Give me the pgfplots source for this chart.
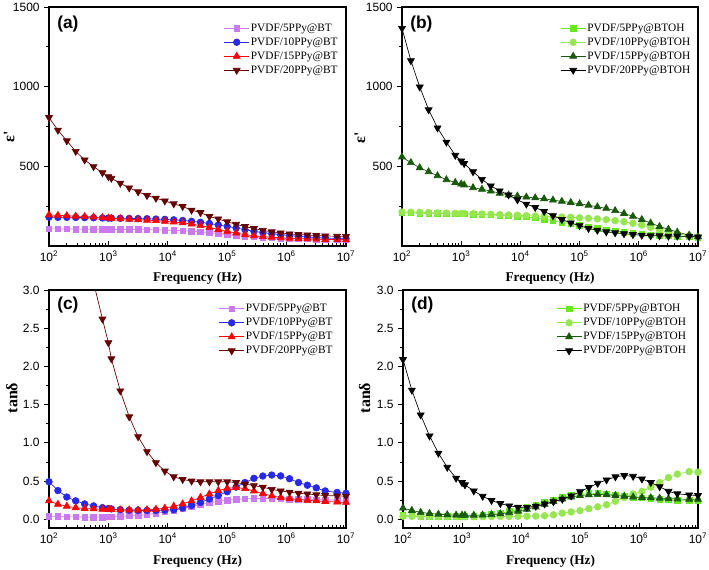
\documentclass[border=0pt]{standalone}
\usepackage{fontspec}
\setmainfont{Liberation Serif}
\newfontfamily\arial{Liberation Sans}
\usepackage{pgfplots}
\usepackage{pgfplotstable}
\pgfplotsset{compat=1.18}

\definecolor{cpink}{RGB}{204,120,240}
\definecolor{cblue}{RGB}{40,40,235}
\definecolor{cred}{RGB}{255,0,0}
\definecolor{cmaroon}{RGB}{100,0,0}
\definecolor{cgreen}{RGB}{100,235,30}
\definecolor{clgreen}{RGB}{150,230,80}
\definecolor{cdgreen}{RGB}{25,90,10}

% panel (a): eps' of PVDF/PPy@BT
\pgfplotstableread{
f p5 p10 p15 p20
1e2 108 181 195 806
1.413e2 107 180 192 727
1.995e2 107 180 190 660
2.818e2 106 179 187 594
3.981e2 106 178 185 540
5.623e2 105 177 182 498
7.943e2 105 176 178 460
1e3 104 175 175 435
1.122e3 104 175 174 425
1.585e3 104 174 171 394
2.239e3 103 173 168 365
3.162e3 103 172 165 340
4.467e3 102 171 162 317
6.31e3 101 169 159 300
8.913e3 100 167 155 283
1.259e4 98 164 151 265
1.778e4 96 160 145 248
2.512e4 93 155 138 225
3.548e4 89 149 128 210
5.012e4 84 141 117 185
7.079e4 78 132 104 170
1e5 72 123 92 152
1.413e5 66 113 81 136
1.995e5 61 102 71 122
2.818e5 57 92 64 110
3.981e5 53 84 59 98
5.623e5 50 77 55 89
7.943e5 48 71 52 82
1.122e6 46 66 49 76
1.585e6 45 61 47 72
2.239e6 44 57 45 69
3.162e6 43 53 43 66
4.467e6 42 50 41 63
7.079e6 41 47 40 61
1e7 40 46 39 60
}\tabA

% panel (b): eps' of PVDF/PPy@BTOH
\pgfplotstableread{
f p5 p10 p15 p20
1e2 208 213 559 1366
1.413e2 207 212 523 1163
1.995e2 206 211 491 998
2.818e2 205 210 466 855
3.981e2 204 208 441 741
5.623e2 203 207 416 652
7.943e2 202 205 399 569
1e3 201 204 389 534
1.122e3 201 204 383 518
1.585e3 199 202 366 466
2.239e3 197 201 356 418
3.162e3 195 199 345 377
4.467e3 192 197 331 346
6.31e3 189 195 320 321
8.913e3 186 193 313 290
1.259e4 182 190 307 263
1.778e4 176 188 302 242
2.512e4 168 186 296 217
3.548e4 159 184 288 190
5.012e4 148 182 280 166
7.079e4 140 180 273 145
1e5 131 177 265 128
1.413e5 120 174 256 110
1.995e5 110 170 246 99
2.818e5 101 165 236 89
3.981e5 94 159 222 83
5.623e5 87 152 204 77
7.943e5 81 143 186 72
1.122e6 76 131 166 68
1.585e6 71 117 144 64
2.239e6 68 102 122 64
3.162e6 65 88 105 62
4.467e6 62 76 87 62
7.079e6 58 65 68 60
1e7 56 58 58 56
}\tabB

% panel (c): tan delta of PVDF/PPy@BT
\pgfplotstableread{
f p5 p10 p15 p20
1e2 0.04 0.49 0.24 7.2
1.413e2 0.035 0.375 0.195 6.1
1.995e2 0.032 0.29 0.17 5.2
2.818e2 0.03 0.24 0.15 4.4
3.981e2 0.028 0.20 0.14 3.7
5.623e2 0.027 0.174 0.135 3.1
7.943e2 0.028 0.152 0.13 2.62
1e3 0.03 0.14 0.128 2.31
1.122e3 0.03 0.135 0.126 2.10
1.585e3 0.035 0.125 0.122 1.68
2.239e3 0.042 0.118 0.12 1.34
3.162e3 0.05 0.115 0.12 1.08
4.467e3 0.062 0.115 0.122 0.885
6.31e3 0.078 0.115 0.13 0.74
8.913e3 0.095 0.118 0.145 0.63
1.259e4 0.115 0.125 0.17 0.555
1.778e4 0.14 0.147 0.2 0.52
2.512e4 0.165 0.18 0.24 0.50
3.548e4 0.19 0.22 0.285 0.49
5.012e4 0.215 0.265 0.33 0.49
7.079e4 0.235 0.31 0.375 0.49
1e5 0.25 0.36 0.405 0.49
1.413e5 0.26 0.42 0.415 0.48
1.995e5 0.268 0.48 0.40 0.46
2.818e5 0.272 0.535 0.37 0.44
3.981e5 0.272 0.565 0.335 0.42
5.623e5 0.27 0.578 0.305 0.39
7.943e5 0.267 0.567 0.285 0.37
1.122e6 0.263 0.53 0.27 0.355
1.585e6 0.26 0.48 0.258 0.34
2.239e6 0.257 0.445 0.248 0.33
3.162e6 0.255 0.41 0.24 0.32
4.467e6 0.253 0.37 0.232 0.31
7.079e6 0.25 0.35 0.225 0.305
1e7 0.25 0.34 0.22 0.30
}\tabC

% panel (d): tan delta of PVDF/PPy@BTOH
\pgfplotstableread{
f p5 p10 p15 p20
1e2 0.05 0.04 0.145 2.09
1.413e2 0.045 0.037 0.115 1.69
1.995e2 0.04 0.035 0.09 1.365
2.818e2 0.038 0.034 0.075 1.09
3.981e2 0.036 0.033 0.065 0.864
5.623e2 0.035 0.033 0.058 0.68
7.943e2 0.035 0.033 0.054 0.537
1e3 0.035 0.033 0.052 0.48
1.122e3 0.036 0.033 0.052 0.45
1.585e3 0.04 0.033 0.052 0.37
2.239e3 0.048 0.034 0.055 0.30
3.162e3 0.06 0.035 0.06 0.245
4.467e3 0.078 0.036 0.07 0.205
6.31e3 0.1 0.037 0.085 0.175
8.913e3 0.125 0.038 0.105 0.158
1.259e4 0.155 0.039 0.13 0.155
1.778e4 0.185 0.041 0.16 0.17
2.512e4 0.22 0.045 0.195 0.2
3.548e4 0.255 0.058 0.23 0.228
5.012e4 0.285 0.08 0.265 0.262
7.079e4 0.31 0.095 0.29 0.305
1e5 0.325 0.113 0.31 0.36
1.413e5 0.335 0.138 0.32 0.415
1.995e5 0.335 0.162 0.325 0.47
2.818e5 0.33 0.19 0.32 0.515
3.981e5 0.32 0.235 0.31 0.555
5.623e5 0.305 0.285 0.30 0.572
7.943e5 0.29 0.33 0.29 0.562
1.122e6 0.28 0.365 0.285 0.527
1.585e6 0.27 0.42 0.28 0.48
2.239e6 0.26 0.48 0.275 0.425
3.162e6 0.255 0.545 0.27 0.365
4.467e6 0.25 0.59 0.265 0.333
7.079e6 0.245 0.623 0.26 0.318
1e7 0.24 0.615 0.26 0.31
}\tabD

\pgfplotsset{
  myaxis/.style={
    scale only axis, clip mode=individual,
    xmin=1e2, xmax=1e7,
    xtick={1e2,1e3,1e4,1e5,1e6,1e7},
    xticklabels={10\textsuperscript{2},10\textsuperscript{3},10\textsuperscript{4},10\textsuperscript{5},10\textsuperscript{6},10\textsuperscript{7}},
    xtick pos=bottom, ytick pos=left,
    xtick align=inside, ytick align=outside,
    major tick length=3.5pt, minor tick length=2pt,
    tick style={black, line width=0.6pt},
    axis line style={line width=1pt},
    /pgf/number format/assume math mode=true,
    tick label style={font=\arial\fontsize{9}{10}\selectfont},
    xlabel={Frequency (Hz)},
    xlabel style={font=\bfseries\fontsize{10}{12}\selectfont, at={(axis description cs:0.5,-0.134)}, anchor=center},
    legend cell align=left,
    legend style={draw=none, fill=none, inner sep=0pt, anchor=north east,
      font=\fontsize{8.5}{10}\selectfont, row sep=0.5pt,
      nodes={inner sep=1pt, text height=6.2pt, text depth=1.8pt}},
    legend image code/.code={\draw[mark repeat=2,mark phase=2] plot coordinates {(0cm,0cm) (0.33cm,0cm) (0.66cm,0cm)};},
    every axis plot/.append style={line width=0.5pt},
  },
  epsy/.style={ymin=0, ymax=1500, ytick={500,1000,1500}, minor ytick={250,750,1250},
    yticklabel style={/pgf/number format/fixed, /pgf/number format/1000 sep={}}},
  tany/.style={ymin=-0.115, ymax=3, ytick={0,0.5,...,3}, minor ytick={0.25,0.75,...,2.75},
    yticklabel style={/pgf/number format/fixed, /pgf/number format/fixed zerofill, /pgf/number format/precision=1}},
  sA/.style={color=cpink, mark=square*, mark size=2.1pt, mark options={solid}},
  sB/.style={color=cblue, mark=*, mark size=2.5pt, mark options={solid}},
  sC/.style={color=cred, mark=triangle*, mark size=3pt, mark options={solid}},
  sD/.style={color=cmaroon, mark=triangle*, mark size=3pt, mark options={solid, rotate=180}},
  tA/.style={color=cgreen, mark=square*, mark size=2.1pt, mark options={solid}},
  tB/.style={color=clgreen, mark=*, mark size=2.5pt, mark options={solid}},
  tC/.style={color=cdgreen, mark=triangle*, mark size=3pt, mark options={solid}},
  tD/.style={color=black, mark=triangle*, mark size=3pt, mark options={solid, rotate=180}},
}
\tikzset{plabel/.style={anchor=west, font=\arial\bfseries\fontsize{13}{14}\selectfont},
  ylab/.style={rotate=90, anchor=center, inner sep=0pt, font=\bfseries\fontsize{12}{14}\selectfont}}

\begin{document}
\begin{tikzpicture}
\useasboundingbox (0,0) rectangle (531.75pt,427.5pt);

% (a)
\begin{axis}[xmode=log, myaxis, epsy, at={(36.75pt,243pt)}, anchor=south west,
  width=222.75pt, height=179.25pt,
  legend style={at={(axis description cs:0.977,0.94)}}]
\addplot[sA] table[x=f,y=p5]{\tabA};
\addplot[sB] table[x=f,y=p10]{\tabA};
\addplot[sC] table[x=f,y=p15]{\tabA};
\addplot[sD] table[x=f,y=p20]{\tabA};
\legend{PVDF/5PPy@BT,PVDF/10PPy@BT,PVDF/15PPy@BT,PVDF/20PPy@BT}
\node[plabel] at (axis description cs:0.012,0.93) {(a)};
\end{axis}

% (b)
\begin{axis}[xmode=log, myaxis, epsy, at={(301.5pt,243pt)}, anchor=south west,
  width=222pt, height=179.25pt,
  legend style={at={(axis description cs:0.979,0.94)}}]
\addplot[tA] table[x=f,y=p5]{\tabB};
\addplot[tB] table[x=f,y=p10]{\tabB};
\addplot[tC] table[x=f,y=p15]{\tabB};
\addplot[tD] table[x=f,y=p20]{\tabB};
\legend{PVDF/5PPy@BTOH,PVDF/10PPy@BTOH,PVDF/15PPy@BTOH,PVDF/20PPy@BTOH}
\node[plabel] at (axis description cs:0.012,0.93) {(b)};
\end{axis}

% (c)
\begin{axis}[xmode=log, myaxis, tany, at={(36.75pt,31.5pt)}, anchor=south west,
  width=222.75pt, height=178.5pt,
  xlabel style={at={(axis description cs:0.5,-0.142)}},
  legend style={at={(axis description cs:0.96,0.95)}}]
\addplot[sA] table[x=f,y=p5]{\tabC};
\addplot[sB] table[x=f,y=p10]{\tabC};
\addplot[sC] table[x=f,y=p15]{\tabC};
\addplot[sD] table[x=f,y=p20]{\tabC};
\legend{PVDF/5PPy@BT,PVDF/10PPy@BT,PVDF/15PPy@BT,PVDF/20PPy@BT}
\node[plabel] at (axis description cs:0.012,0.935) {(c)};
\end{axis}

% (d)
\begin{axis}[xmode=log, myaxis, tany, at={(302.25pt,31.5pt)}, anchor=south west,
  width=221.25pt, height=178.5pt,
  xlabel style={at={(axis description cs:0.5,-0.142)}},
  legend style={at={(axis description cs:0.965,0.95)}}]
\addplot[tA] table[x=f,y=p5]{\tabD};
\addplot[tB] table[x=f,y=p10]{\tabD};
\addplot[tC] table[x=f,y=p15]{\tabD};
\addplot[tD] table[x=f,y=p20]{\tabD};
\legend{PVDF/5PPy@BTOH,PVDF/10PPy@BTOH,PVDF/15PPy@BTOH,PVDF/20PPy@BTOH}
\node[plabel] at (axis description cs:0.012,0.935) {(d)};
\end{axis}

% y-axis titles
\node[ylab] at (7pt,324.75pt) {ε\textquotesingle};
\node[ylab] at (270pt,324pt) {ε\textquotesingle};
\node[ylab] at (9pt,129pt) {tanδ};
\node[ylab] at (273.4pt,129pt) {tanδ};
\end{tikzpicture}
\end{document}
